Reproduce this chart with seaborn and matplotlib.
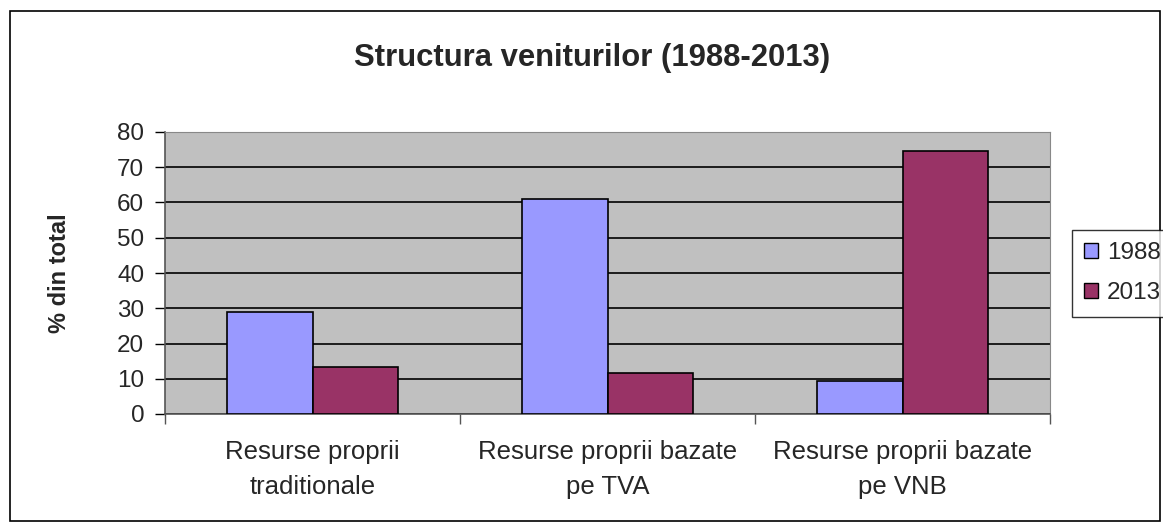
import numpy as np
import pandas as pd
import matplotlib
matplotlib.use('Agg')
import matplotlib.pyplot as plt
from matplotlib.patches import Rectangle, Patch
import seaborn as sb

# data
categories = ['Resurse proprii\ntraditionale', 'Resurse proprii bazate\npe TVA', 'Resurse proprii bazate\npe VNB']
years = ['1988', '2013']
vals_1988 = [29.0, 60.9, 9.4]
vals_2013 = [13.3, 11.5, 74.5]
colours = ['#9999FF', '#993366']

df = pd.DataFrame({
    'cat': categories * 2,
    'an': [years[0]] * 3 + [years[1]] * 3,
    'val': vals_1988 + vals_2013,
})

sb.set_style('white')
plt.rcParams['font.family'] = ['Liberation Sans', 'DejaVu Sans']

fig = plt.figure(figsize=(11.63, 5.25), dpi=100)
ax = fig.add_axes([165 / 1163, 1 - 414 / 525, 885 / 1163, 282 / 525])
ax.set_facecolor('#C0C0C0')

sb.barplot(data=df, x='cat', y='val', hue='an', palette=colours, width=0.58,
           edgecolor='black', linewidth=1.2, saturation=1, legend=False, ax=ax, zorder=3)

ax.set_ylim(0, 80)
ax.set_xlim(-0.5, 2.5)
ax.set_yticks(np.arange(0, 81, 10))
ax.yaxis.grid(True, color='black', linewidth=1.2, zorder=0)
ax.set_axisbelow(True)
ax.tick_params(axis='y', labelsize=17.5, length=7, width=1, color='black', direction='out', left=True, pad=8)
ax.tick_params(axis='x', which='major', length=0, labelsize=18.5, pad=19)
for t in ax.get_xticklabels():
    t.set_linespacing(1.55)
ax.set_xticks([-0.5, 0.5, 1.5, 2.5], minor=True)
ax.tick_params(axis='x', which='minor', length=7, width=1, color='#555555', bottom=True)
ax.set_xlabel('')
ax.set_ylabel('% din total', fontsize=17, fontweight='bold', labelpad=33)
for s in ['left', 'bottom']:
    ax.spines[s].set_color('#555555')
    ax.spines[s].set_linewidth(1.2)
for s in ['top', 'right']:
    ax.spines[s].set_color('#888888')

fig.suptitle('Structura veniturilor (1988-2013)', fontsize=22.3, fontweight='bold',
             x=592 / 1163, y=1 - 58 / 525, va='center')

handles = [Patch(facecolor=c, edgecolor='black', label=y) for c, y in zip(colours, years)]
leg = fig.legend(handles=handles, loc='upper left', bbox_to_anchor=(1072 / 1163, 1 - 230 / 525),
                 fontsize=17.5, frameon=True, fancybox=False, edgecolor='black',
                 handlelength=0.55, handleheight=0.55, handletextpad=0.4, labelspacing=0.75,
                 borderpad=0.5, borderaxespad=0)
leg.get_frame().set_linewidth(1)

fig.patches.append(Rectangle((10 / 1163, 1 - 521 / 525), 1150 / 1163, 510 / 525,
                             transform=fig.transFigure, fill=False, edgecolor='black', linewidth=1.2))

plt.savefig('out.png', dpi=100)
